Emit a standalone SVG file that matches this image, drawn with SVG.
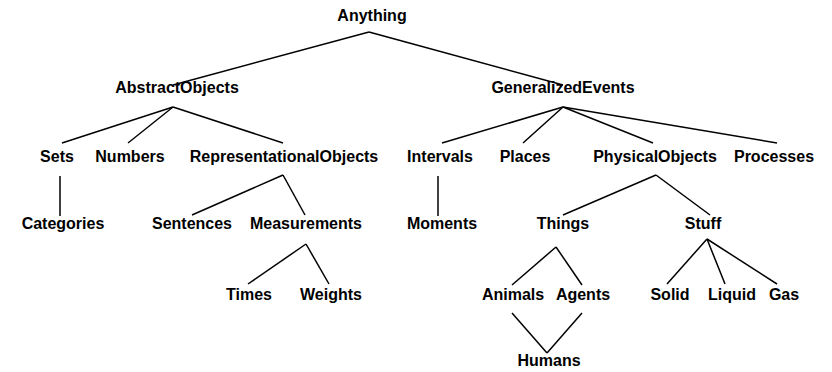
<svg xmlns="http://www.w3.org/2000/svg" width="832" height="372" viewBox="0 0 832 372">
<style>
text{font-family:"Liberation Sans",Arial,sans-serif;font-weight:bold;font-size:16px;text-anchor:middle;fill:#000}
.c line{stroke:#000;stroke-width:1.5;fill:none}
</style>
<rect width="832" height="372" fill="#fff"/>
<g class="c" id="connectors">
<line x1="369" y1="32" x2="173" y2="85"/>
<line x1="369" y1="32" x2="563" y2="85"/>
<line x1="173" y1="107" x2="62" y2="143"/>
<line x1="173" y1="107" x2="128" y2="143"/>
<line x1="173" y1="107" x2="283" y2="143"/>
<line x1="563" y1="107" x2="442" y2="143"/>
<line x1="563" y1="107" x2="523" y2="143"/>
<line x1="563" y1="107" x2="653" y2="143"/>
<line x1="563" y1="107" x2="777" y2="143"/>
<line x1="60" y1="176" x2="60" y2="216"/>
<line x1="283" y1="175" x2="192" y2="215"/>
<line x1="283" y1="175" x2="305" y2="215"/>
<line x1="438" y1="176" x2="438" y2="216"/>
<line x1="656" y1="175" x2="563" y2="215"/>
<line x1="656" y1="175" x2="710" y2="215"/>
<line x1="306" y1="244" x2="248" y2="284"/>
<line x1="306" y1="244" x2="329" y2="284"/>
<line x1="556" y1="247" x2="512" y2="285"/>
<line x1="556" y1="247" x2="582" y2="285"/>
<line x1="707" y1="239" x2="667" y2="284"/>
<line x1="707" y1="239" x2="725" y2="284"/>
<line x1="707" y1="239" x2="777" y2="284"/>
<line x1="512" y1="313" x2="547" y2="353"/>
<line x1="582" y1="313" x2="547" y2="353"/>
</g>
<g id="n-anything"><text x="372" y="21">Anything</text></g>
<g id="n-abstractobjects"><text x="177" y="93">AbstractObjects</text></g>
<g id="n-generalizedevents"><text x="563" y="93">GeneralizedEvents</text></g>
<g id="n-sets"><text x="57" y="162">Sets</text></g>
<g id="n-numbers"><text x="130" y="162">Numbers</text></g>
<g id="n-representationalobjects"><text x="284" y="162">RepresentationalObjects</text></g>
<g id="n-intervals"><text x="440" y="162">Intervals</text></g>
<g id="n-places"><text x="525" y="162">Places</text></g>
<g id="n-physicalobjects"><text x="655" y="162">PhysicalObjects</text></g>
<g id="n-processes"><text x="774" y="162">Processes</text></g>
<g id="n-categories"><text x="63" y="229">Categories</text></g>
<g id="n-sentences"><text x="192" y="229">Sentences</text></g>
<g id="n-measurements"><text x="306" y="229">Measurements</text></g>
<g id="n-moments"><text x="442" y="229">Moments</text></g>
<g id="n-things"><text x="563" y="229">Things</text></g>
<g id="n-stuff"><text x="703" y="229">Stuff</text></g>
<g id="n-times"><text x="249" y="300">Times</text></g>
<g id="n-weights"><text x="331" y="300">Weights</text></g>
<g id="n-animals"><text x="513" y="300">Animals</text></g>
<g id="n-agents"><text x="583" y="300">Agents</text></g>
<g id="n-solid"><text x="670" y="300">Solid</text></g>
<g id="n-liquid"><text x="732" y="300">Liquid</text></g>
<g id="n-gas"><text x="784" y="300">Gas</text></g>
<g id="n-humans"><text x="549" y="366">Humans</text></g>
</svg>
